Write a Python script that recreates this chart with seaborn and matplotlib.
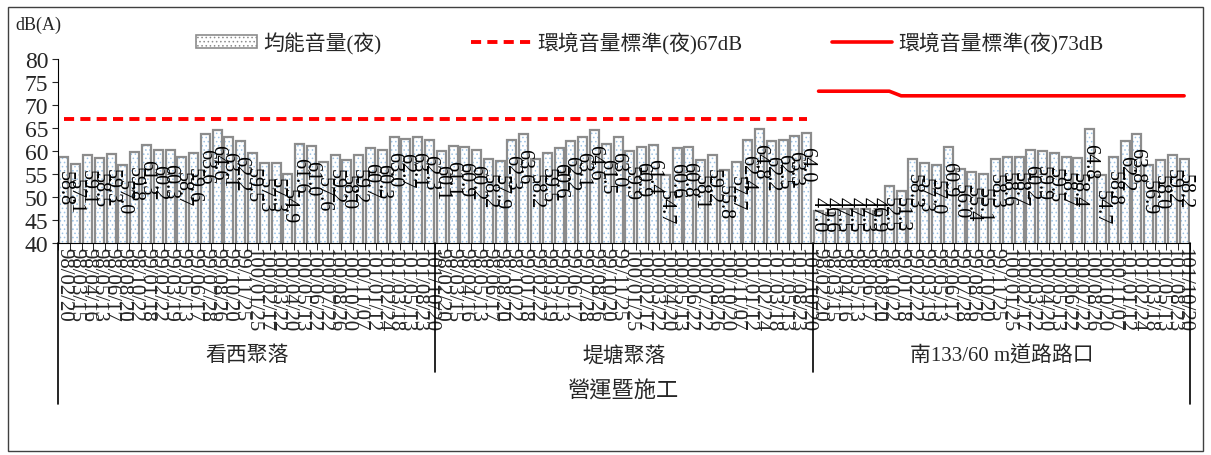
import numpy as np
import pandas as pd
import matplotlib
matplotlib.use('Agg')
import matplotlib.pyplot as plt
import matplotlib.patches as mpatches
from matplotlib.lines import Line2D
import seaborn as sns

# data
groups = ['看西聚落', '堤塘聚落', '南133/60 m道路路口']
phase = '營運暨施工'
dates = ['98/02/20', '98/03/15', '98/04/16', '98/05/13', '98/06/17', '98/08/20', '98/10/22',
         '99/01/18', '99/02/22', '99/03/19', '99/05/13', '99/06/17', '99/07/28', '99/08/26',
         '99/10/20', '99/11/25', '100/01/25', '100/02/17', '100/03/22', '100/04/20',
         '100/05/13', '100/06/22', '100/07/22', '100/08/26', '100/10/20', '100/11/07',
         '101/01/12', '101/02/24', '101/03/18', '101/05/13', '101/08/23', '101/10/20']
night_g1 = [58.8, 57.1, 59.1, 58.5, 59.3, 57.0, 59.8, 61.3, 60.2, 60.3, 58.7, 59.6, 63.6, 64.6, 63.1, 62.2,
            59.5, 57.3, 57.3, 54.9, 61.6, 61.0, 57.6, 59.2, 58.0, 59.2, 60.7, 60.3, 63.0, 62.7, 63.1, 62.3]
night_g2 = [60.1, 61.1, 60.9, 60.2, 58.2, 57.9, 62.3, 63.6, 58.2, 59.5, 60.6, 62.2, 63.1, 64.6, 61.5, 63.0,
            59.9, 60.9, 61.4, 54.7, 60.6, 60.8, 58.1, 59.2, 55.8, 57.7, 62.4, 64.8, 62.2, 62.5, 63.3, 64.0]
night_g3 = [47.0, 46.6, 47.5, 47.5, 47.3, 46.9, 52.5, 51.3, 58.3, 57.3, 57.0, 60.9, 56.0, 55.4, 55.1, 58.3,
            58.6, 58.7, 60.2, 59.9, 59.5, 58.7, 58.4, 64.8, 54.7, 58.8, 62.2, 63.8, 56.9, 58.0, 59.2, 58.2]
std_67 = 67
std_73_g3 = [73] * 7 + [72] * 25

night = night_g1 + night_g2 + night_g3
n = len(night)
df = pd.DataFrame({
    'key': [f'{g}|{d}' for g in groups for d in dates],
    'value': night,
})
line67 = np.array([std_67] * 64 + [np.nan] * 32, dtype=float)
line73 = np.array([np.nan] * 64 + std_73_g3, dtype=float)

sns.set_style('white')
plt.rcParams['font.family'] = ['Liberation Serif', 'Noto Sans CJK TC']
plt.rcParams['hatch.linewidth'] = 0.6

W, H = 1211, 456
fig = plt.figure(figsize=(W / 100, H / 100), dpi=100)
ax = fig.add_axes([58 / W, 1 - 244 / H, (1190 - 58) / W, (244 - 60) / H])

# bars: dotted fill, then grey outline
sns.barplot(data=df, x='key', y='value', color='white', hatch='....', edgecolor='#9dc3e6',
            linewidth=0, width=0.76, ax=ax)
sns.barplot(data=df, x='key', y='value', color='#8c8c8c', fill=False, linewidth=1.6,
            width=0.76, ax=ax)

xs = np.arange(n)
sns.lineplot(x=xs, y=line67, color='#ff0000', linewidth=2.8, dashes=False, ax=ax)
ax.lines[-1].set_linestyle((0, (2.6, 1.6)))
sns.lineplot(x=xs, y=line73, color='#ff0000', linewidth=2.6, ax=ax)

ax.set_xlim(-0.5, n - 0.5)
ax.set_ylim(40, 80)
ax.set_yticks(range(40, 81, 5))
ax.tick_params(axis='y', labelsize=17, length=4, direction='out', left=True, pad=3)
ax.set_xlabel('')
ax.set_ylabel('')
ax.set_xticks(xs)
ax.set_xticklabels(dates * 3, rotation=-90, fontsize=15)
ax.tick_params(axis='x', length=0, pad=3)
ax.set_xticks(np.arange(n + 1) - 0.5, minor=True)
ax.tick_params(axis='x', which='minor', length=5, direction='out', color='black', bottom=True)
for s in ['top', 'right']:
    ax.spines[s].set_visible(False)
ax.spines['left'].set_color('black')
ax.spines['bottom'].set_color('black')

# value labels
for i, v in enumerate(night):
    ax.text(i, max(v - 3.0, 50.3), f'{v:.1f}', rotation=-90, ha='center', va='top',
            fontsize=14.5, color='black')

# multi-level category axis
tr = ax.get_xaxis_transform()
for xb in [-0.5, n - 0.5]:
    ax.plot([xb, xb], [0, -0.875], color='black', lw=1.2, transform=tr, clip_on=False)
for xb in [31.5, 63.5]:
    ax.plot([xb, xb], [0, -0.70], color='black', lw=1.2, transform=tr, clip_on=False)
for k, g in enumerate(groups):
    ax.text(k * 32 + 15.5, -0.61, g, transform=tr, ha='center', va='center', fontsize=15)
ax.text((n - 1) / 2, -0.805, phase, transform=tr, ha='center', va='center', fontsize=16)

# legend
h_bar = mpatches.Patch(facecolor='white', edgecolor='#8c8c8c', hatch='....', linewidth=1.2)
h_67 = Line2D([], [], color='#ff0000', lw=2.8, linestyle=(0, (2.6, 1.6)))
h_73 = Line2D([], [], color='#ff0000', lw=2.6)
fig.legend([h_bar, h_67, h_73], ['均能音量(夜)', '環境音量標準(夜)67dB', '環境音量標準(夜)73dB'],
           loc='center', bbox_to_anchor=(650 / W, 1 - 44 / H), ncol=3, frameon=False,
           fontsize=15, handlelength=2.9, handleheight=0.6, columnspacing=4.3, handletextpad=0.3)

fig.text(15 / W, 1 - 25 / H, 'dB(A)', ha='left', va='center', fontsize=13)
fig.patches.append(mpatches.Rectangle((8 / W, 4 / H), 1195 / W, 444 / H, transform=fig.transFigure,
                                      fill=False, edgecolor='#404040', lw=1))

fig.savefig('out.png', dpi=100)
